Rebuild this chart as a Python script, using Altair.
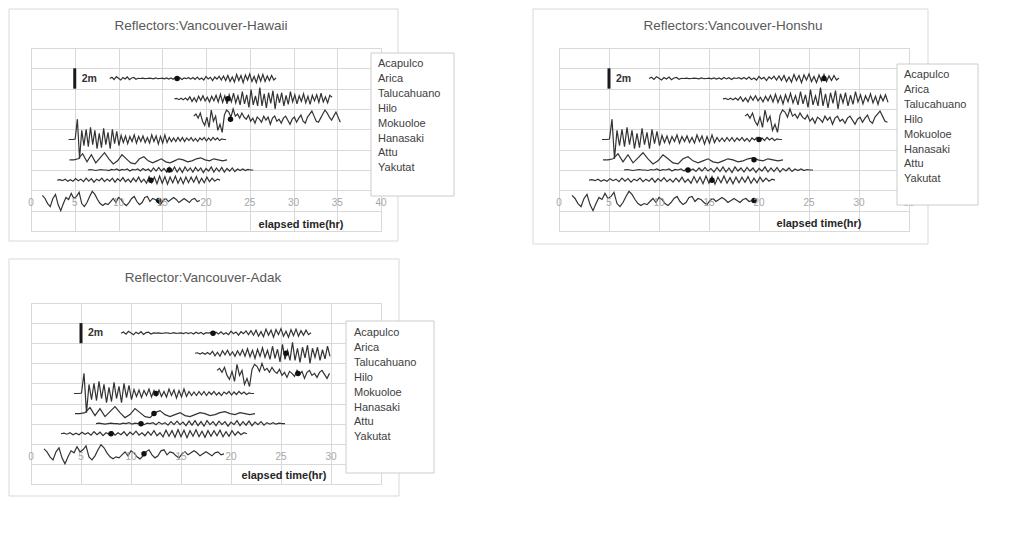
import altair as alt
import pandas as pd

# ---------------- data ----------------
STATIONS = ["Acapulco", "Arica", "Talucahuano", "Hilo", "Mokuoloe", "Hanasaki", "Attu", "Yakutat"]
OFFSETS = [11, 9, 7, 5, 3, 2, 1, -1]          # vertical offset of each record (m)
STARTS = [9.0, 16.4, 18.6, 4.3, 4.4, 6.5, 3.0, 1.3]   # first sample (hr)
STEPS = [0.25, 0.25, 0.25, 0.25, 0.5, 0.3, 0.3, 0.3]  # sample interval (hr)

ACAPULCO = [0, 0.12, -0.1, 0.18, 0.02, -0.15, 0.1, -0.05, 0.15, -0.12, 0.05, 0.1, -0.08, 0.02,
            0, 0.03, -0.02, 0, 0.04, 0.01, -0.03, 0.05, -0.02, 0, 0.03, -0.04, 0.06, -0.05,
            0.06, -0.08, 0.1, -0.04, 0.08, -0.1, 0.05, 0, 0.08, -0.06, 0.1, -0.08,
            0.14, -0.1, 0.05, -0.15, 0.2, -0.05, 0.12, -0.2, 0.15, -0.05, 0.22, -0.15,
            0.25, -0.2, 0.3, -0.3, 0.15, -0.35, 0.4, -0.2, 0.3, -0.4, 0.35, -0.15, 0.45,
            -0.3, 0.2, -0.4, 0.35, -0.25, 0.4, -0.3, 0.25, -0.2, 0.3, -0.15, 0.05]
ARICA = [0, 0.05, -0.08, 0.06, -0.1, 0.08, -0.12,
         0.2, -0.25, 0.1, -0.3, 0.25, -0.15, 0.3, -0.2, 0.15, -0.3, 0.25, -0.2,
         0.35, -0.3, 0.45, -0.35, 0.3, -0.5, 0.4, -0.3, 0.55, -0.4, 0.3, -0.6,
         0.7, -0.5, 0.4, -0.85, 0.9, -0.6, 0.3, -0.7, 1.1, -0.7, 0.5, -0.9,
         0.6, -0.45, 0.8, -1.0, 0.5, -0.4, 0.6, -0.7, 0.35, -0.55, 0.7, -0.3,
         0.4, -0.5, 0.3, -0.25, 0.5, -0.4, 0.25, -0.55, 0.35, -0.2, 0.4, -0.35, 0.55,
         -0.3, 0.2, -0.4, 0.35, 0.15]
TALUCAHUANO = [0.3, 0.5, 0.1, 0.6, -0.2, -0.6, 0.2, -0.8,
               0.9, -0.2, 0.3, -1.1, -0.5, -1.3, 0.4, 0.9,
               0.7, 0.2, 1.0, 0.3, 0.5, 0.1, 0.6, 0.2,
               0.0, 0.4, -0.2, 0.1, -0.4, 0.2, 0.0, -0.3,
               0.3, -0.1, 0.2, -0.5, 0.1, 0.3, -0.2, 0.0,
               -0.4, 0.1, 0.3, -0.1, -0.5, 0.0, 0.2, -0.3,
               0.1, 0.4, -0.2, -0.4, 0.2, 0.5, 0.8, 0.3,
               -0.2, -0.3, 0.1, 0.5, 0.9, 0.6, 0.2, -0.1,
               0.3, 0.7, 0.2, -0.3]
HILO = [0, 0, 0, 0.05,
        2.0, -1.9, 0.9, -0.6,
        1.0, -0.7, 1.2, -0.5, 0.9, -0.9, 0.6, -0.8,
        1.1, -0.5, 0.7, -0.9, 1.0, -0.4, 0.8, -0.6,
        0.4, -0.3, 0.35, -0.4, 0.3, -0.2, 0.45, -0.35,
        0.3, -0.2, 0.35, -0.3, 0.2, -0.35, 0.45, -0.2,
        0.35, -0.45, 0.3, -0.35, 0.45, -0.3, 0.2, -0.2,
        0.15, -0.2, 0.2, -0.15, 0.2, -0.2, 0.15, -0.1,
        0.2, -0.15, 0.1, -0.2, 0.15, -0.05, 0.2, -0.15,
        0.15, -0.1, 0.2, -0.05, 0.15, -0.1, 0.05, 0.0, 0.0]
MOKUOLOE = [0, 0, 0.1, 0.6, -0.2, 0.5, -0.3, 0.2, 0.7, 0.1,
            -0.4, -0.1, 0.5, 0.1, -0.3, -0.4, 0.1, 0.3, -0.1, -0.3,
            -0.1, 0.1, -0.2, -0.3, -0.1, 0.1, 0.0, -0.2, -0.1, 0.1,
            0.2, 0.0, -0.1, 0.1, 0.0, -0.1, 0.0]
HANASAKI = [0, 0.05, 0, -0.05, 0, 0.05, 0, 0, -0.05, 0.05,
            0, 0.1, -0.05, 0.05, 0, 0.1, -0.1, 0.05, 0, 0.1,
            -0.1, 0.15, -0.05, 0.1, -0.15, 0.2, -0.1, 0.25, -0.1, 0.15,
            -0.2, 0.25, -0.15, 0.3, -0.2, 0.2, -0.25, 0.3, -0.1, 0.2,
            -0.2, 0.25, -0.1, 0.2, -0.25, 0.15, -0.1, 0.3, -0.2, 0.2,
            -0.15, 0.25, -0.2, 0.15, -0.1, 0.2, -0.15, 0.1, -0.05, 0.1,
            -0.05, 0.05, 0, 0]
ATTU = [0, 0.05, -0.05, 0.1, -0.1, 0.05, -0.1, 0.15, -0.05, 0.1,
        -0.15, 0.2, -0.1, 0.15, -0.2, 0.1, -0.05, 0.2, -0.15, 0.1,
        -0.1, 0.2, -0.2, 0.15, -0.1, 0.25, -0.15, 0.1, -0.2, 0.2,
        -0.15, 0.3, -0.2, 0.1, -0.3, 0.35, -0.25, 0.3, -0.35, 0.4,
        -0.3, 0.35, -0.4, 0.3, -0.25, 0.4, -0.3, 0.25, -0.35, 0.3,
        -0.25, 0.3, -0.2, 0.35, -0.3, 0.2, -0.25, 0.3, -0.15, 0.2,
        -0.1, 0.1, 0]
YAKUTAT = [0.5, 0.2, -0.3, -0.6, 0.2, 0.6, -0.4, -1.0, -0.3, 0.3,
           0.1, 0.7, 0.2, 0.4, 0.8, -0.3, -0.6, -0.2, 0.4, 0.9,
           0.6, 0.1, -0.3, -0.5, -0.3, -0.4, -0.1, 0.2, -0.2, 0.3,
           0.1, -0.3, -0.5, -0.2, 0.2, 0.4, -0.1, -0.4, -0.2, 0.3,
           0.4, -0.1, 0.2, 0.1, -0.2, -0.4, 0.0, 0.2, -0.1, 0.1,
           0.3, 0.1, -0.2, 0.0, 0.2, 0.0, -0.2, 0.1, 0.2, -0.1, 0.0]
SERIES = [ACAPULCO, ARICA, TALUCAHUANO, HILO, MOKUOLOE, HANASAKI, ATTU, YAKUTAT]

TITLES = ["Reflectors:Vancouver-Hawaii", "Reflectors:Vancouver-Honshu", "Reflector:Vancouver-Adak"]
X_MAX = [40, 35, 35]
CLIP = [36, 33, 30]        # last hour of record drawn in each panel
TICKS = [[0, 5, 10, 15, 20, 25, 30, 35, 40],
         [0, 5, 10, 15, 20, 25, 30, 35],
         [0, 5, 10, 15, 20, 25, 30, 35]]
Y_GRID = [-4, -2, 0, 2, 4, 6, 8, 10, 12, 14]
# arrival markers (hr) per panel, per station
DOTS = [[16.7, 22.5, 22.8, None, None, 15.8, 13.7, 14.6],
        [26.5, None, None, 20.0, 19.5, 12.9, 15.3, 19.5],
        [18.2, 25.5, 26.7, 12.5, 12.3, 11.0, 8.0, 11.3]]
BAR_T = 5
BAR_V = [10, 12]
BAR_LABEL = "2m"
X_TITLE = "elapsed time(hr)"

# ---------------- layout ----------------
PLOT_W = 350
PLOT_H = [183, 183, 181]
FRAME = [(-22, 367, -39, 193), (-26, 369, -39, 196), (-22, 368, -44, 193)]
LEG_BOX = [(340, 423, 5, 148), (338, 419, 16, 157), (315, 403, 18, 170)]
LEG_TEXT_X = [347, 345, 323]
LEG_ROW0 = [16, 27, 30]
LEG_ROW_STEP = 14.9
XTITLE_POS = [(270, 177), (260, 176), (253, 173)]
TITLE_POS = [(170, -22), (174, -22), (172, -25)]

GRID = "#d9d9d9"
FONT = "Liberation Sans"

rows = []
for name, off, t0, dt, amps in zip(STATIONS, OFFSETS, STARTS, STEPS, SERIES):
    for k, a in enumerate(amps):
        rows.append({"station": name, "t": round(t0 + k * dt, 3), "v": off + a})
traces = pd.DataFrame(rows)
one = pd.DataFrame({"k": [0]})


def panel(i):
    xs = alt.Scale(domain=[0, X_MAX[i]], nice=False, zero=False)
    ys = alt.Scale(domain=[-4, 14], nice=False, zero=False)
    ax_x = alt.Axis(values=TICKS[i], grid=True, labels=False, ticks=False, domain=False,
                    gridColor=GRID, gridWidth=1, title="")
    ax_y = alt.Axis(values=Y_GRID, grid=True, labels=False, ticks=False, domain=False,
                    gridColor=GRID, gridWidth=1, title="")

    def X(f):
        return alt.X(f, scale=xs, axis=ax_x)

    def Y(f):
        return alt.Y(f, scale=ys, axis=ax_y)

    frame = alt.Chart(one).mark_rect(fill="white", fillOpacity=0, stroke=GRID, strokeWidth=1).encode(
        x=alt.value(FRAME[i][0]), x2=alt.value(FRAME[i][1]),
        y=alt.value(FRAME[i][2]), y2=alt.value(FRAME[i][3]))

    title = alt.Chart(one).mark_text(align="center", baseline="middle", fontSize=13.5, font=FONT,
                                     color="#595959").encode(
        x=alt.value(TITLE_POS[i][0]), y=alt.value(TITLE_POS[i][1]), text=alt.value(TITLES[i]))

    tr = traces[traces["t"] <= CLIP[i]]
    lines = alt.Chart(tr).mark_line(color="#333333", strokeWidth=1.2).encode(
        x=X("t:Q"), y=Y("v:Q"), detail="station:N", order="t:Q")

    dots_df = pd.DataFrame([{"station": s, "t": d, "v": o}
                            for s, d, o in zip(STATIONS, DOTS[i], OFFSETS) if d is not None])
    dots = alt.Chart(dots_df).mark_circle(size=30, color="#111111", opacity=1).encode(
        x=X("t:Q"), y=Y("v:Q"))

    bar_df = pd.DataFrame({"t": [BAR_T], "v": [BAR_V[0]], "v2": [BAR_V[1]],
                           "label": [BAR_LABEL]})
    bar = alt.Chart(bar_df).mark_rule(color="#1a1a1a", strokeWidth=3).encode(
        x=X("t:Q"), y=Y("v:Q"), y2="v2:Q")
    bar_lab_df = pd.DataFrame({"t": [BAR_T], "v": [(BAR_V[0] + BAR_V[1]) / 2], "label": [BAR_LABEL]})
    bar_txt = alt.Chart(bar_lab_df).mark_text(align="left", baseline="middle", dx=7, fontSize=10.5,
                                              fontWeight="bold", font=FONT, color="#333333").encode(
        x=X("t:Q"), y=Y("v:Q"), text="label:N")

    tick_df = pd.DataFrame({"t": TICKS[i], "v": [0] * len(TICKS[i]),
                            "label": [str(x) for x in TICKS[i]]})
    ticks = alt.Chart(tick_df).mark_text(dy=13, fontSize=10, font=FONT, color="#a6a6a6").encode(
        x=X("t:Q"), y=Y("v:Q"), text="label:N")

    xtitle = alt.Chart(one).mark_text(align="center", baseline="middle", fontSize=11, font=FONT,
                                      fontWeight="bold", color="#262626").encode(
        x=alt.value(XTITLE_POS[i][0]), y=alt.value(XTITLE_POS[i][1]), text=alt.value(X_TITLE))

    leg_box = alt.Chart(one).mark_rect(fill="white", stroke="#cccccc", strokeWidth=1).encode(
        x=alt.value(LEG_BOX[i][0]), x2=alt.value(LEG_BOX[i][1]),
        y=alt.value(LEG_BOX[i][2]), y2=alt.value(LEG_BOX[i][3]))
    leg_df = pd.DataFrame({"name": STATIONS,
                           "py": [LEG_ROW0[i] + k * LEG_ROW_STEP for k in range(len(STATIONS))]})
    leg_txt = alt.Chart(leg_df).mark_text(align="left", baseline="middle", fontSize=11, font=FONT,
                                          color="#404040").encode(
        x=alt.value(LEG_TEXT_X[i]), y=alt.Y("py:Q", scale=None, axis=None), text="name:N")

    return alt.layer(frame, title, lines, dots, bar, bar_txt, ticks, xtitle, leg_box, leg_txt).properties(
        width=PLOT_W, height=PLOT_H[i])


chart = alt.concat(panel(0), panel(1), panel(2), columns=2,
                   spacing=alt.RowColnumber(row=72, column=178), bounds="flush").properties(
    padding=0, background="white").configure_view(stroke=GRID)

chart.save("out.html", embed_options={"renderer": "svg", "actions": False})
